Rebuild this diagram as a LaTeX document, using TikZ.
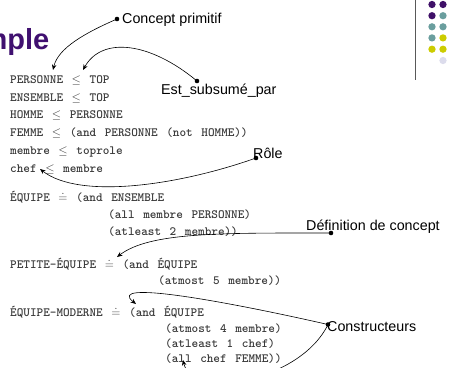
\documentclass[tikz,border=0pt]{standalone}
\usepackage{fontspec}
\newfontfamily\annfont{Liberation Sans}
\newfontfamily\codefont{lmmonolt10-bold}[Extension=.otf,WordSpace=1.3]
\usetikzlibrary{arrows.meta}
\definecolor{codegray}{HTML}{3A3A3A}
\definecolor{titlepurple}{HTML}{401070}
\definecolor{dotpurple}{HTML}{3F1068}
\definecolor{dotteal}{HTML}{6A9E9E}
\definecolor{dotyellow}{HTML}{CCCC00}
\definecolor{dotlav}{HTML}{DCDCEC}
\tikzset{
  code/.style={anchor=base west, inner sep=0pt, text=codegray, font=\codefont\fontsize{12.6}{15}\selectfont},
  ann/.style={anchor=base west, inner sep=0pt, font=\annfont\fontsize{14.3}{17}\selectfont},
  conn/.style={draw=black, line width=0.6pt, -{Stealth[length=5.5pt,width=4.5pt]}},
  blackdot/.style={fill=black, circle, inner sep=0pt, minimum size=4.6pt},
  sidedot/.style={circle, inner sep=0pt, minimum size=7.3pt}
}
\begin{document}
\begin{tikzpicture}[x=1pt,y=-1pt]
\useasboundingbox (0,0) rectangle (450,367);
\clip (0,0) rectangle (450,367);
% title
\node[anchor=base east, inner sep=0pt, text=titlepurple, font=\annfont\bfseries\fontsize{29}{34}\selectfont] (title) at (49.5,49) {Exemple};
% side decoration
\draw[color=black!65, line width=0.9pt] (415,0) -- (415,80);
\node[sidedot, fill=dotpurple] (s11) at (432,4.5) {};
\node[sidedot, fill=dotpurple] (s12) at (443,4.5) {};
\node[sidedot, fill=dotpurple] (s21) at (432,15.7) {};
\node[sidedot, fill=dotteal] (s22) at (443,15.7) {};
\node[sidedot, fill=dotteal] (s31) at (432,26.8) {};
\node[sidedot, fill=dotteal] (s32) at (443,26.8) {};
\node[sidedot, fill=dotteal] (s41) at (432,37.9) {};
\node[sidedot, fill=dotyellow] (s42) at (443,37.9) {};
\node[sidedot, fill=dotyellow] (s51) at (432,49.2) {};
\node[sidedot, fill=dotyellow] (s52) at (443,49.2) {};
\node[sidedot, fill=dotlav] (s62) at (443,60.5) {};
% code lines
\node[code] (l1) at (10,83) {PERSONNE $\leq$ TOP};
\node[code] (l2) at (10,101) {ENSEMBLE $\leq$ TOP};
\node[code] (l3) at (10,118.5) {HOMME $\leq$ PERSONNE};
\node[code] (l4) at (10,136) {FEMME $\leq$ (and PERSONNE (not HOMME))};
\node[code] (l5) at (10,154) {membre $\leq$ toprole};
\node[code] (l6) at (10,172) {chef $\leq$ membre};
\node[code] (l7) at (10,201) {ÉQUIPE $\doteq$ (and ENSEMBLE};
\node[code] (l8) at (108,218) {(all membre PERSONNE)};
\node[code] (l9) at (108,235) {(atleast 2 membre))};
\node[code] (l10) at (10,268) {PETITE-ÉQUIPE $\doteq$ (and ÉQUIPE};
\node[code] (l11) at (158,284.5) {(atmost 5 membre))};
\node[code] (l12) at (10,316) {ÉQUIPE-MODERNE $\doteq$ (and ÉQUIPE};
\node[code] (l13) at (165,332) {(atmost 4 membre)};
\node[code] (l14) at (165,347) {(atleast 1 chef)};
\node[code] (l15) at (165,362) {(all chef FEMME))};
% annotations
\node[ann] (a1) at (122,23.5) {Concept primitif};
\node[ann] (a2) at (161,94) {Est\_subsumé\_par};
\node[ann] (a3) at (253,158.5) {Rôle};
\node[ann] (a4) at (306,230) {Définition de concept};
\node[ann] (a5) at (327,331) {Constructeurs};
% annotation dots
\node[blackdot] (d1) at (117,19) {};
\node[blackdot] (d2) at (197,81) {};
\node[blackdot] (d3) at (256,158) {};
\node[blackdot] (d4) at (331,233) {};
\node[blackdot] (d5) at (328,324.5) {};
% arrow targets
\coordinate (t1) at (53,70);
\coordinate (t2) at (83,70);
\coordinate (t3) at (40,169);
\coordinate (t4) at (117,257);
\coordinate (t5) at (136,304);
\coordinate (t6) at (183,360);
% connectors
\draw[conn] (d1.center) .. controls (85,33) and (58,48) .. (t1);
\draw[conn] (d2.center) .. controls (150,42) and (102,36) .. (t2);
\draw[conn] (d3.center) .. controls (180,185) and (80,200) .. (t3);
\draw[conn] (d4.center) .. controls (220,233) and (150,232) .. (t4);
\draw[conn] (d5.center) .. controls (220,300) and (106,280) .. (t5);
\draw[conn] (d5.center) .. controls (300,382) and (192,400) .. (t6);
\end{tikzpicture}
\end{document}
